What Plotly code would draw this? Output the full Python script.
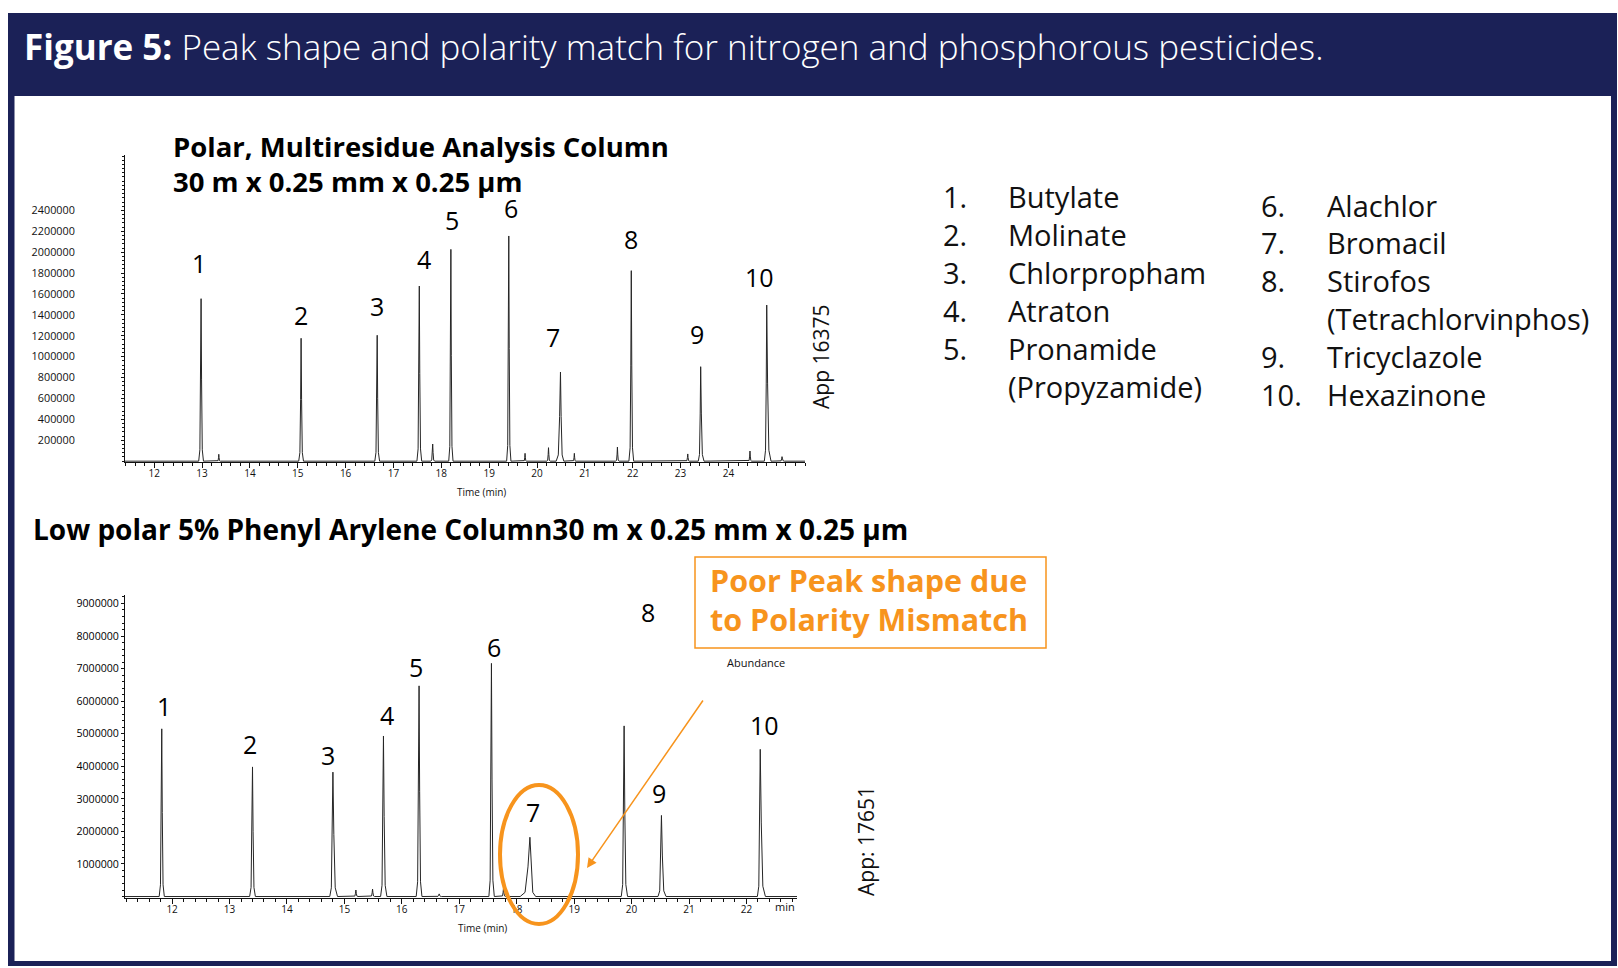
import plotly.graph_objects as go

W, H = 1618, 968
FONT = "Open Sans"
NAVY = "#1b2157"
ORANGE = "#f7941d"
LINE = "#262626"

# ---------------- data: top chromatogram (Polar, Multiresidue Analysis Column) ----------------
top_peak_time = [12.98, 13.35, 15.07, 16.66, 17.54, 17.82, 18.20, 19.41, 19.75, 20.24,
                 20.49, 20.78, 21.68, 21.97, 23.15, 23.42, 24.45, 24.80, 25.12]
top_peak_height = [1555000, 66000, 1176000, 1205000, 1676000, 164000, 2027000, 2155000, 75000, 129000,
                   853000, 75000, 135000, 1823000, 69000, 904000, 97000, 1494000, 43000]
top_peak_wleft = [0.05, 0.03, 0.05, 0.05, 0.05, 0.04, 0.045, 0.045, 0.03, 0.035,
                  0.09, 0.03, 0.035, 0.05, 0.035, 0.05, 0.035, 0.05, 0.04]
top_peak_wright = [0.05, 0.03, 0.05, 0.05, 0.05, 0.04, 0.045, 0.045, 0.03, 0.035,
                   0.07, 0.03, 0.035, 0.05, 0.035, 0.07, 0.035, 0.09, 0.05]
top_label_text = ["1", "2", "3", "4", "5", "6", "7", "8", "9", "10"]
top_label_time = [12.94, 15.07, 16.65, 17.63, 18.22, 19.46, 20.33, 21.97, 23.34, 24.64]
top_label_value = [1894000, 1399000, 1488000, 1935000, 2308000, 2425000, 1185000, 2126000, 1220000, 1765000]
top_x_ticks = [12, 13, 14, 15, 16, 17, 18, 19, 20, 21, 22, 23, 24]
top_y_ticks = [200000, 400000, 600000, 800000, 1000000, 1200000, 1400000, 1600000,
               1800000, 2000000, 2200000, 2400000]

# ---------------- data: bottom chromatogram (Low polar 5% Phenyl Arylene Column) ----------------
bot_peak_time = [11.82, 13.40, 14.80, 15.20, 15.49, 15.68, 16.30, 16.65, 17.56, 17.77,
                 18.23, 19.87, 20.52, 22.24]
bot_peak_height = [5150000, 3980000, 3820000, 200000, 230000, 4930000, 6470000, 80000, 7160000, 260000,
                   1820000, 5240000, 2490000, 4520000]
bot_peak_wleft = [0.045, 0.05, 0.055, 0.035, 0.035, 0.05, 0.05, 0.04, 0.045, 0.035,
                  0.17, 0.05, 0.06, 0.05]
bot_peak_wright = [0.045, 0.05, 0.08, 0.035, 0.035, 0.06, 0.05, 0.04, 0.05, 0.035,
                   0.10, 0.06, 0.08, 0.09]
bot_label_text = ["1", "2", "3", "4", "5", "6", "7", "8", "9", "10"]
bot_label_time = [11.86, 13.36, 14.72, 15.74, 16.25, 17.60, 18.28, 20.28, 20.48, 22.32]
bot_label_value = [5860000, 4675000, 4346000, 5575000, 7058000, 7654000, 2587000, 8747000, 3189000, 5268000]
bot_x_ticks = [12, 13, 14, 15, 16, 17, 18, 19, 20, 21, 22]
bot_y_ticks = [1000000, 2000000, 3000000, 4000000, 5000000, 6000000, 7000000, 8000000, 9000000]

# ---------------- data: compound legend ----------------
compound_numbers = ["1.", "2.", "3.", "4.", "5.", "6.", "7.", "8.", "9.", "10."]
compound_names = ["Butylate", "Molinate", "Chlorpropham", "Atraton", "Pronamide\n(Propyzamide)",
                  "Alachlor", "Bromacil", "Stirofos\n(Tetrachlorvinphos)", "Tricyclazole", "Hexazinone"]

# ---------------- texts ----------------
fig_title_bold = "Figure 5:"
fig_title_rest = " Peak shape and polarity match for nitrogen and phosphorous pesticides."
top_title = ["Polar, Multiresidue Analysis Column", "30 m x 0.25 mm x 0.25 µm"]
bot_title = "Low polar 5% Phenyl Arylene Column30 m x 0.25 mm x 0.25 µm"
callout = ["Poor Peak shape due", "to Polarity Mismatch"]

# peak profile shape (relative offsets, relative heights) -- styling constants
PROFILE_DX = [-1.0, -0.5, -0.2, 0.0, 0.2, 0.5, 1.0]
PROFILE_DY = [0.0, 0.07, 0.5, 1.0, 0.5, 0.07, 0.0]


def chromatogram(t_start, t_end, times, heights, wl, wr):
    xs, ys = [t_start], [0]
    for t, h, a, b in zip(times, heights, wl, wr):
        for dx, dy in zip(PROFILE_DX, PROFILE_DY):
            xs.append(t + dx * (a if dx < 0 else b))
            ys.append(h * dy)
    xs.append(t_end)
    ys.append(0)
    return xs, ys


def px(x):
    return x / W


def py(y):
    return 1 - y / H


TOP_XR = [11.39, 25.6]
BOT_XR = [11.18, 22.88]

fig = go.Figure()
tx, ty = chromatogram(TOP_XR[0], TOP_XR[1], top_peak_time, top_peak_height, top_peak_wleft, top_peak_wright)
fig.add_trace(go.Scatter(x=tx, y=ty, mode="lines", line=dict(color=LINE, width=1),
                         xaxis="x", yaxis="y", hoverinfo="skip", showlegend=False))
bx, by = chromatogram(BOT_XR[0], BOT_XR[1], bot_peak_time, bot_peak_height, bot_peak_wleft, bot_peak_wright)
fig.add_trace(go.Scatter(x=bx, y=by, mode="lines", line=dict(color=LINE, width=1),
                         xaxis="x2", yaxis="y2", hoverinfo="skip", showlegend=False))

ann = []
# peak labels
for txt, t, v in zip(top_label_text, top_label_time, top_label_value):
    ann.append(dict(x=t, y=v, xref="x", yref="y", text=txt, showarrow=False, borderpad=0,
                    font=dict(family=FONT, size=25, color="#000")))
for txt, t, v in zip(bot_label_text, bot_label_time, bot_label_value):
    ann.append(dict(x=t, y=v, xref="x2", yref="y2", text=txt, showarrow=False, borderpad=0,
                    font=dict(family=FONT, size=25, color="#000")))

# figure title
ann.append(dict(x=px(22), y=py(47), xref="paper", yref="paper", xanchor="left", yanchor="middle",
                text="<b>" + fig_title_bold + "</b>" + fig_title_rest, showarrow=False,
                font=dict(family=FONT, size=35, color="white", weight=300)))

# chart titles
for i, line in enumerate(top_title):
    ann.append(dict(x=px(172), y=py(146 + 35.5 * i), xref="paper", yref="paper", xanchor="left",
                    yanchor="middle", text="<b>" + line + "</b>", showarrow=False, borderpad=0,
                    font=dict(family=FONT, size=27.5, color="#000")))
ann.append(dict(x=px(31), y=py(529), xref="paper", yref="paper", xanchor="left", yanchor="middle",
                text="<b>" + bot_title + "</b>", showarrow=False,
                font=dict(family=FONT, size=28, color="#000")))

# axis titles and extras
ann.append(dict(x=px(455), y=py(492), xref="paper", yref="paper", text="Time (min)", showarrow=False,
                font=dict(family=FONT, size=10, color="#111")))
ann.append(dict(x=px(456), y=py(937), xref="paper", yref="paper", text="Time (min)", showarrow=False,
                font=dict(family=FONT, size=10, color="#111")))
ann.append(dict(x=px(785), y=py(916), xref="paper", yref="paper", text="min", showarrow=False,
                font=dict(family=FONT, size=11, color="#111")))
ann.append(dict(x=px(756), y=py(672), xref="paper", yref="paper", text="Abundance", showarrow=False,
                font=dict(family=FONT, size=11, color="#111")))
ann.append(dict(x=px(821), y=py(357), xref="paper", yref="paper", text="App 16375", showarrow=False,
                textangle=-90, font=dict(family=FONT, size=21, color="#111")))
ann.append(dict(x=px(866), y=py(898), xref="paper", yref="paper", text="App: 17651", showarrow=False,
                textangle=-90, font=dict(family=FONT, size=21, color="#111")))

# compound legend
col_num_x = [941, 1259]
col_name_x = [1006, 1325]
col_y0 = [197, 205]
col_dy = [37.9, 37.9]
rows = [0, 0]
for num, name in zip(compound_numbers, compound_names):
    c = 0 if int(num.rstrip(".")) <= 5 else 1
    yy = col_y0[c] + col_dy[c] * rows[c]
    ann.append(dict(x=px(col_num_x[c]), y=py(yy), xref="paper", yref="paper", xanchor="left",
                    yanchor="middle", text=num, showarrow=False,
                    font=dict(family=FONT, size=29, color="#111")))
    for part in name.split("\n"):
        yy = col_y0[c] + col_dy[c] * rows[c]
        ann.append(dict(x=px(col_name_x[c]), y=py(yy), xref="paper", yref="paper", xanchor="left",
                        yanchor="middle", text=part, showarrow=False,
                        font=dict(family=FONT, size=29, color="#111")))
        rows[c] += 1

# callout
for i, line in enumerate(callout):
    ann.append(dict(x=px(708), y=py(580 + 39 * i), xref="paper", yref="paper", xanchor="left",
                    yanchor="middle", text="<b>" + line + "</b>", showarrow=False,
                    font=dict(family=FONT, size=30.5, color=ORANGE)))
ann.append(dict(x=px(587), y=py(868), xref="paper", yref="paper", ax=117, ay=-169, axref="pixel",
                ayref="pixel", text="", showarrow=True, arrowhead=2, arrowsize=1.3, arrowwidth=1.5,
                arrowcolor=ORANGE))

shapes = [
    dict(type="rect", xref="paper", yref="paper", x0=px(8), x1=px(1617), y0=py(966), y1=py(13),
         fillcolor=NAVY, line=dict(width=0), layer="below"),
    dict(type="rect", xref="paper", yref="paper", x0=px(14.5), x1=px(1611), y0=py(961), y1=py(96),
         fillcolor="white", line=dict(width=0), layer="below"),
    dict(type="rect", xref="paper", yref="paper", x0=px(695), x1=px(1046), y0=py(648), y1=py(557),
         line=dict(color=ORANGE, width=1.5)),
    dict(type="circle", xref="paper", yref="paper", x0=px(500), x1=px(578), y0=py(924), y1=py(785),
         line=dict(color=ORANGE, width=4)),
]

axis_common = dict(showline=True, linecolor="#111", linewidth=1, showgrid=False, zeroline=False,
                   ticks="outside", tickcolor="#111", tickwidth=1, fixedrange=True)

fig.update_layout(
    width=W, height=H, autosize=False,
    margin=dict(l=0, r=0, t=0, b=0),
    paper_bgcolor="white", plot_bgcolor="rgba(0,0,0,0)",
    showlegend=False,
    xaxis=dict(domain=[px(125), px(805)], range=TOP_XR, anchor="y", tickmode="array",
               tickvals=top_x_ticks, ticktext=[str(v) for v in top_x_ticks], ticklen=5,
               ticklabelstandoff=-3, tickfont=dict(family=FONT, size=10, color="#111"),
               minor=dict(tickmode="linear", tick0=0, dtick=0.2, ticks="outside", ticklen=3,
                          tickcolor="#111"), **axis_common),
    yaxis=dict(domain=[py(462), py(155)], range=[-8000, 2930000], anchor="x", tickmode="array",
               tickvals=top_y_ticks, ticktext=[str(v) for v in top_y_ticks], ticklen=3,
               ticklabelstandoff=44, tickfont=dict(family=FONT, size=10.8, color="#111"),
               minor=dict(tickmode="linear", tick0=0, dtick=40000, ticks="outside", ticklen=2,
                          tickcolor="#111"), **axis_common),
    xaxis2=dict(domain=[px(125), px(797)], range=BOT_XR, anchor="y2", tickmode="array",
                tickvals=bot_x_ticks, ticktext=[str(v) for v in bot_x_ticks], ticklen=5,
                ticklabelstandoff=-3, tickfont=dict(family=FONT, size=10, color="#111"),
                minor=dict(tickmode="linear", tick0=0, dtick=0.2, ticks="outside", ticklen=3,
                           tickcolor="#111"), **axis_common),
    yaxis2=dict(domain=[py(897.5), py(595)], range=[-30000, 9260000], anchor="x2", tickmode="array",
                tickvals=bot_y_ticks, ticktext=[str(v) for v in bot_y_ticks], ticklen=3,
                tickfont=dict(family=FONT, size=10.6, color="#000"),
                minor=dict(tickmode="linear", tick0=0, dtick=200000, ticks="outside", ticklen=2,
                           tickcolor="#111"), **axis_common),
    annotations=ann,
    shapes=shapes,
)

fig.write_html("out.html", config={"displayModeBar": False, "staticPlot": True},
               post_script="document.body.style.margin='0';document.body.style.overflow='hidden';")
